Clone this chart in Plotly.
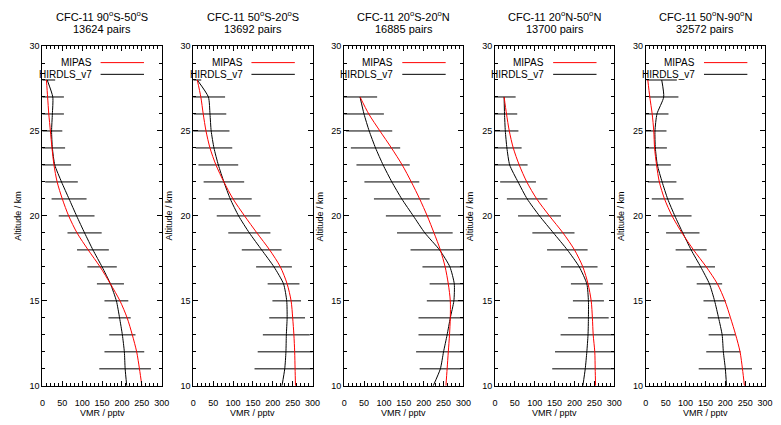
import plotly.graph_objects as go

W, H = 781, 425

titles = ["CFC-11 90<sup>o</sup>S-50<sup>o</sup>S", "CFC-11 50<sup>o</sup>S-20<sup>o</sup>S",
          "CFC-11 20<sup>o</sup>S-20<sup>o</sup>N", "CFC-11 20<sup>o</sup>N-50<sup>o</sup>N",
          "CFC-11 50<sup>o</sup>N-90<sup>o</sup>N"]
pairs = ["13624 pairs", "13692 pairs", "16885 pairs", "13700 pairs", "32572 pairs"]

# altitude levels (km), bottom to top
alt_a = list(range(10, 29))   # 10..28
alt_b = list(range(10, 28))   # 10..27

mipas1 = [250, 244, 237, 226, 213, 195, 171, 145, 115, 87, 66, 50, 37, 29, 24, 20, 16, 13, 10]
hirdls1 = [212, 208, 206, 201, 194, 186, 171, 150, 127, 106, 86, 67, 48, 31, 25, 23, 25, 26, 12]
err1 = [65, 50, 33, 28, 30, 34, 37, 40, 43, 45, 44, 41, 41, 32, 27, 29, 28, 20]

mipas2 = [257, 256, 255, 253, 250, 246, 236, 219, 192, 160, 129, 100, 77, 57, 42, 32, 25, 19, 10]
hirdls2 = [223, 230, 233, 234, 236, 235, 227, 203, 172, 141, 114, 93, 77, 63, 52, 45, 42, 38, 10]
err2 = [76, 71, 59, 45, 36, 40, 45, 50, 53, 55, 54, 51, 50, 46, 46, 41, 42, 10]

mipas3 = [256, 259, 262, 265, 267, 267, 262, 254, 242, 226, 209, 190, 169, 146, 119, 90, 62, 40]
hirdls3 = [224, 242, 250, 259, 267, 276, 277, 266, 240, 203, 174, 145, 120, 98, 79, 63, 50, 40]
err3 = [52, 69, 72, 80, 68, 62, 69, 73, 70, 69, 70, 69, 67, 62, 58, 50, 43]

mipas4 = [253, 252, 251, 247, 245, 242, 234, 221, 200, 171, 137, 105, 80, 61, 46, 36, 29, 23]
hirdls4 = [221, 227, 231, 234, 235, 235, 231, 212, 182, 147, 112, 81, 58, 37, 30, 26, 24, 23]
err4 = [83, 80, 69, 51, 39, 40, 46, 51, 53, 54, 51, 45, 45, 37, 33, 32, 29]

mipas5 = [248, 243, 237, 226, 213, 199, 180, 152, 120, 91, 66, 47, 34, 27, 22, 20, 16, 10, 5]
hirdls5 = [203, 200, 195, 192, 183, 173, 160, 138, 114, 93, 73, 55, 41, 29, 24, 23, 28, 45, 40]
err5 = [67, 43, 34, 27, 28, 32, 36, 39, 42, 42, 40, 36, 34, 29, 29, 29, 37, 38]

panels = [
    (alt_a, mipas1, hirdls1, err1),
    (alt_a, mipas2, hirdls2, err2),
    (alt_b, mipas3, hirdls3, err3),
    (alt_b, mipas4, hirdls4, err4),
    (alt_a, mipas5, hirdls5, err5),
]

xticks = [0, 50, 100, 150, 200, 250, 300]
yticks = [10, 15, 20, 25, 30]

FONT = "Liberation Sans, Arial, sans-serif"
left_px = [40, 193, 346, 499, 652]
pw = 121
top_px, bot_px = 42, 390


def px(x):
    return x / W


def py(y):
    return 1 - y / H


fig = go.Figure()
layout = dict(
    width=W, height=H, margin=dict(l=0, r=0, t=0, b=0),
    paper_bgcolor="white", plot_bgcolor="white", showlegend=False,
    font=dict(family=FONT, size=9, color="black"),
)
annotations = []
shapes = []

for i, (alt, mip, hir, err) in enumerate(panels):
    n = i + 1
    xa = "x" if n == 1 else f"x{n}"
    ya = "y" if n == 1 else f"y{n}"
    fig.add_trace(go.Scatter(x=hir[1:], y=alt[1:], mode="markers",
                             marker=dict(size=1, color="rgba(0,0,0,0)"),
                             error_x=dict(type="data", array=err, symmetric=True,
                                          width=0, thickness=1, color="black"),
                             xaxis=xa, yaxis=ya, hoverinfo="skip"))
    fig.add_trace(go.Scatter(x=hir, y=alt, mode="lines", name="HIRDLS_v7",
                             line=dict(color="black", width=1, shape="spline", smoothing=0.6),
                             xaxis=xa, yaxis=ya))
    fig.add_trace(go.Scatter(x=mip, y=alt, mode="lines", name="MIPAS",
                             line=dict(color="red", width=1, shape="spline", smoothing=0.8),
                             xaxis=xa, yaxis=ya))

    L = left_px[i]
    key_x = "xaxis" if n == 1 else f"xaxis{n}"
    key_y = "yaxis" if n == 1 else f"yaxis{n}"
    layout[key_x] = dict(
        domain=[px(L), px(L + pw)], anchor=ya, range=[0, 300],
        tickvals=xticks, ticks="inside", ticklen=5, tickcolor="black",
        minor=dict(dtick=10, ticks="inside", ticklen=2.5, tickcolor="black"),
        showline=True, linecolor="black", linewidth=1, mirror="ticks",
        showgrid=False, zeroline=False, tickfont=dict(size=9),
        ticklabelstandoff=8,
    )
    layout[key_y] = dict(
        domain=[py(bot_px), py(top_px)], anchor=xa, range=[10, 30],
        tickvals=yticks, ticks="inside", ticklen=5, tickcolor="black",
        minor=dict(dtick=1, ticks="inside", ticklen=3, tickcolor="black"),
        showline=True, linecolor="black", linewidth=1, mirror="ticks",
        showgrid=False, zeroline=False, tickfont=dict(size=9),
    )
    cx = L + pw / 2
    annotations.append(dict(text=titles[i], x=px(cx), y=py(11), xref="paper", yref="paper",
                            showarrow=False, xanchor="center", yanchor="middle",
                            font=dict(size=11)))
    annotations.append(dict(text=pairs[i], x=px(cx), y=py(25), xref="paper", yref="paper",
                            showarrow=False, xanchor="center", yanchor="middle",
                            font=dict(size=11)))
    annotations.append(dict(text="VMR / pptv", x=px(cx), y=0, xref="paper", yref="paper",
                            showarrow=False, xanchor="center", yanchor="bottom",
                            font=dict(size=9)))
    annotations.append(dict(text="Altitude / km", x=px(L - 25), y=py((top_px + bot_px) / 2),
                            xref="paper", yref="paper", textangle=-90,
                            showarrow=False, xanchor="center", yanchor="middle",
                            font=dict(size=9)))
    # legend
    for lab, col, yy in (("MIPAS", "red", 59), ("HIRDLS_v7", "black", 71)):
        annotations.append(dict(text=lab, x=px(L + 52), y=py(yy), xref="paper", yref="paper",
                                showarrow=False, xanchor="right", yanchor="middle",
                                font=dict(size=10)))
        shapes.append(dict(type="line", xref="paper", yref="paper",
                           x0=px(L + 59), x1=px(L + 103), y0=py(yy), y1=py(yy),
                           line=dict(color=col, width=1)))

layout["annotations"] = annotations
layout["shapes"] = shapes
fig.update_layout(**layout)
fig.write_html("out.html")
